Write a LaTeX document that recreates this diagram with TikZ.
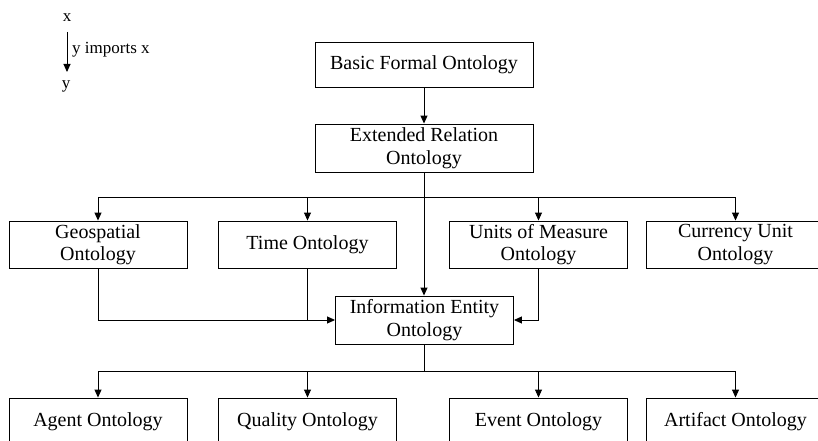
\documentclass[tikz,border=0pt]{standalone}
\usepackage{fontspec}
\setmainfont{Liberation Serif}
\usetikzlibrary{arrows.meta}
\begin{document}
\begin{tikzpicture}[x=1pt,y=-1pt,
  box/.style={draw, line width=0.9pt, inner sep=0pt, minimum height=47pt, align=center,
    font=\fontsize{20}{22.5}\selectfont},
  wbox/.style={box, minimum width=218pt},
  sbox/.style={box, minimum width=178pt},
  conn/.style={line width=0.9pt},
  arr/.style={conn, -{Triangle[length=8pt,width=7pt]}},
  leg/.style={inner sep=0pt, font=\fontsize{17}{19}\selectfont}]
\useasboundingbox (0,0) rectangle (818,441);
\clip (0,0) rectangle (818,441);
% legend
\node[leg] (lx) at (67,18) {x};
\node[leg] (ly) at (66,86) {y};
\draw[arr] (67,32) coordinate (la) -- (67,72) coordinate (lb);
\node[leg, anchor=west] (lt) at (72,50) {y imports x};
% boxes
\node[wbox, minimum height=45pt] (bfo) at (424,64.5) {Basic Formal Ontology};
\node[wbox, minimum height=48pt] (ero) at (424,148) {Extended Relation\\Ontology};
\node[sbox] (geo) at (98,244.5) {Geospatial\\Ontology};
\node[sbox] (time) at (307.5,244.5) {Time Ontology};
\node[sbox] (uom) at (538.5,244.5) {Units of Measure\\Ontology};
\node[sbox] (cur) at (735.5,244.5) {Currency Unit\\Ontology};
\node[sbox, minimum height=48pt] (ieo) at (424.5,320) {Information Entity\\Ontology};
\node[sbox, minimum height=48pt] (agent) at (98,422) {Agent Ontology};
\node[sbox, minimum height=48pt] (qual) at (307.5,422) {Quality Ontology};
\node[sbox, minimum height=48pt] (event) at (538.5,422) {Event Ontology};
\node[sbox, minimum height=48pt] (artf) at (735.5,422) {Artifact Ontology};
% connectors
\draw[arr] (bfo) -- (ero);
\coordinate (bus1) at (424,197);
\draw[conn] (ero.south) -- (bus1);
\draw[arr] (bus1) -| (geo.north);
\draw[arr] (bus1) -| (time.north);
\draw[arr] (bus1) -| (uom.north);
\draw[arr] (bus1) -| (cur.north);
\draw[arr] (ero.south) -- (ieo.north -| ero.south);
\draw[arr] (geo.south) |- (ieo.west);
\draw[conn] (time.south) -- (time.south |- ieo.west);
\draw[arr] (uom.south) |- (ieo.east);
\coordinate (bus2) at (424,371);
\draw[conn] (ieo.south -| bus2) -- (bus2);
\draw[arr] (bus2) -| (agent.north);
\draw[arr] (bus2) -| (qual.north);
\draw[arr] (bus2) -| (event.north);
\draw[arr] (bus2) -| (artf.north);
\end{tikzpicture}
\end{document}
